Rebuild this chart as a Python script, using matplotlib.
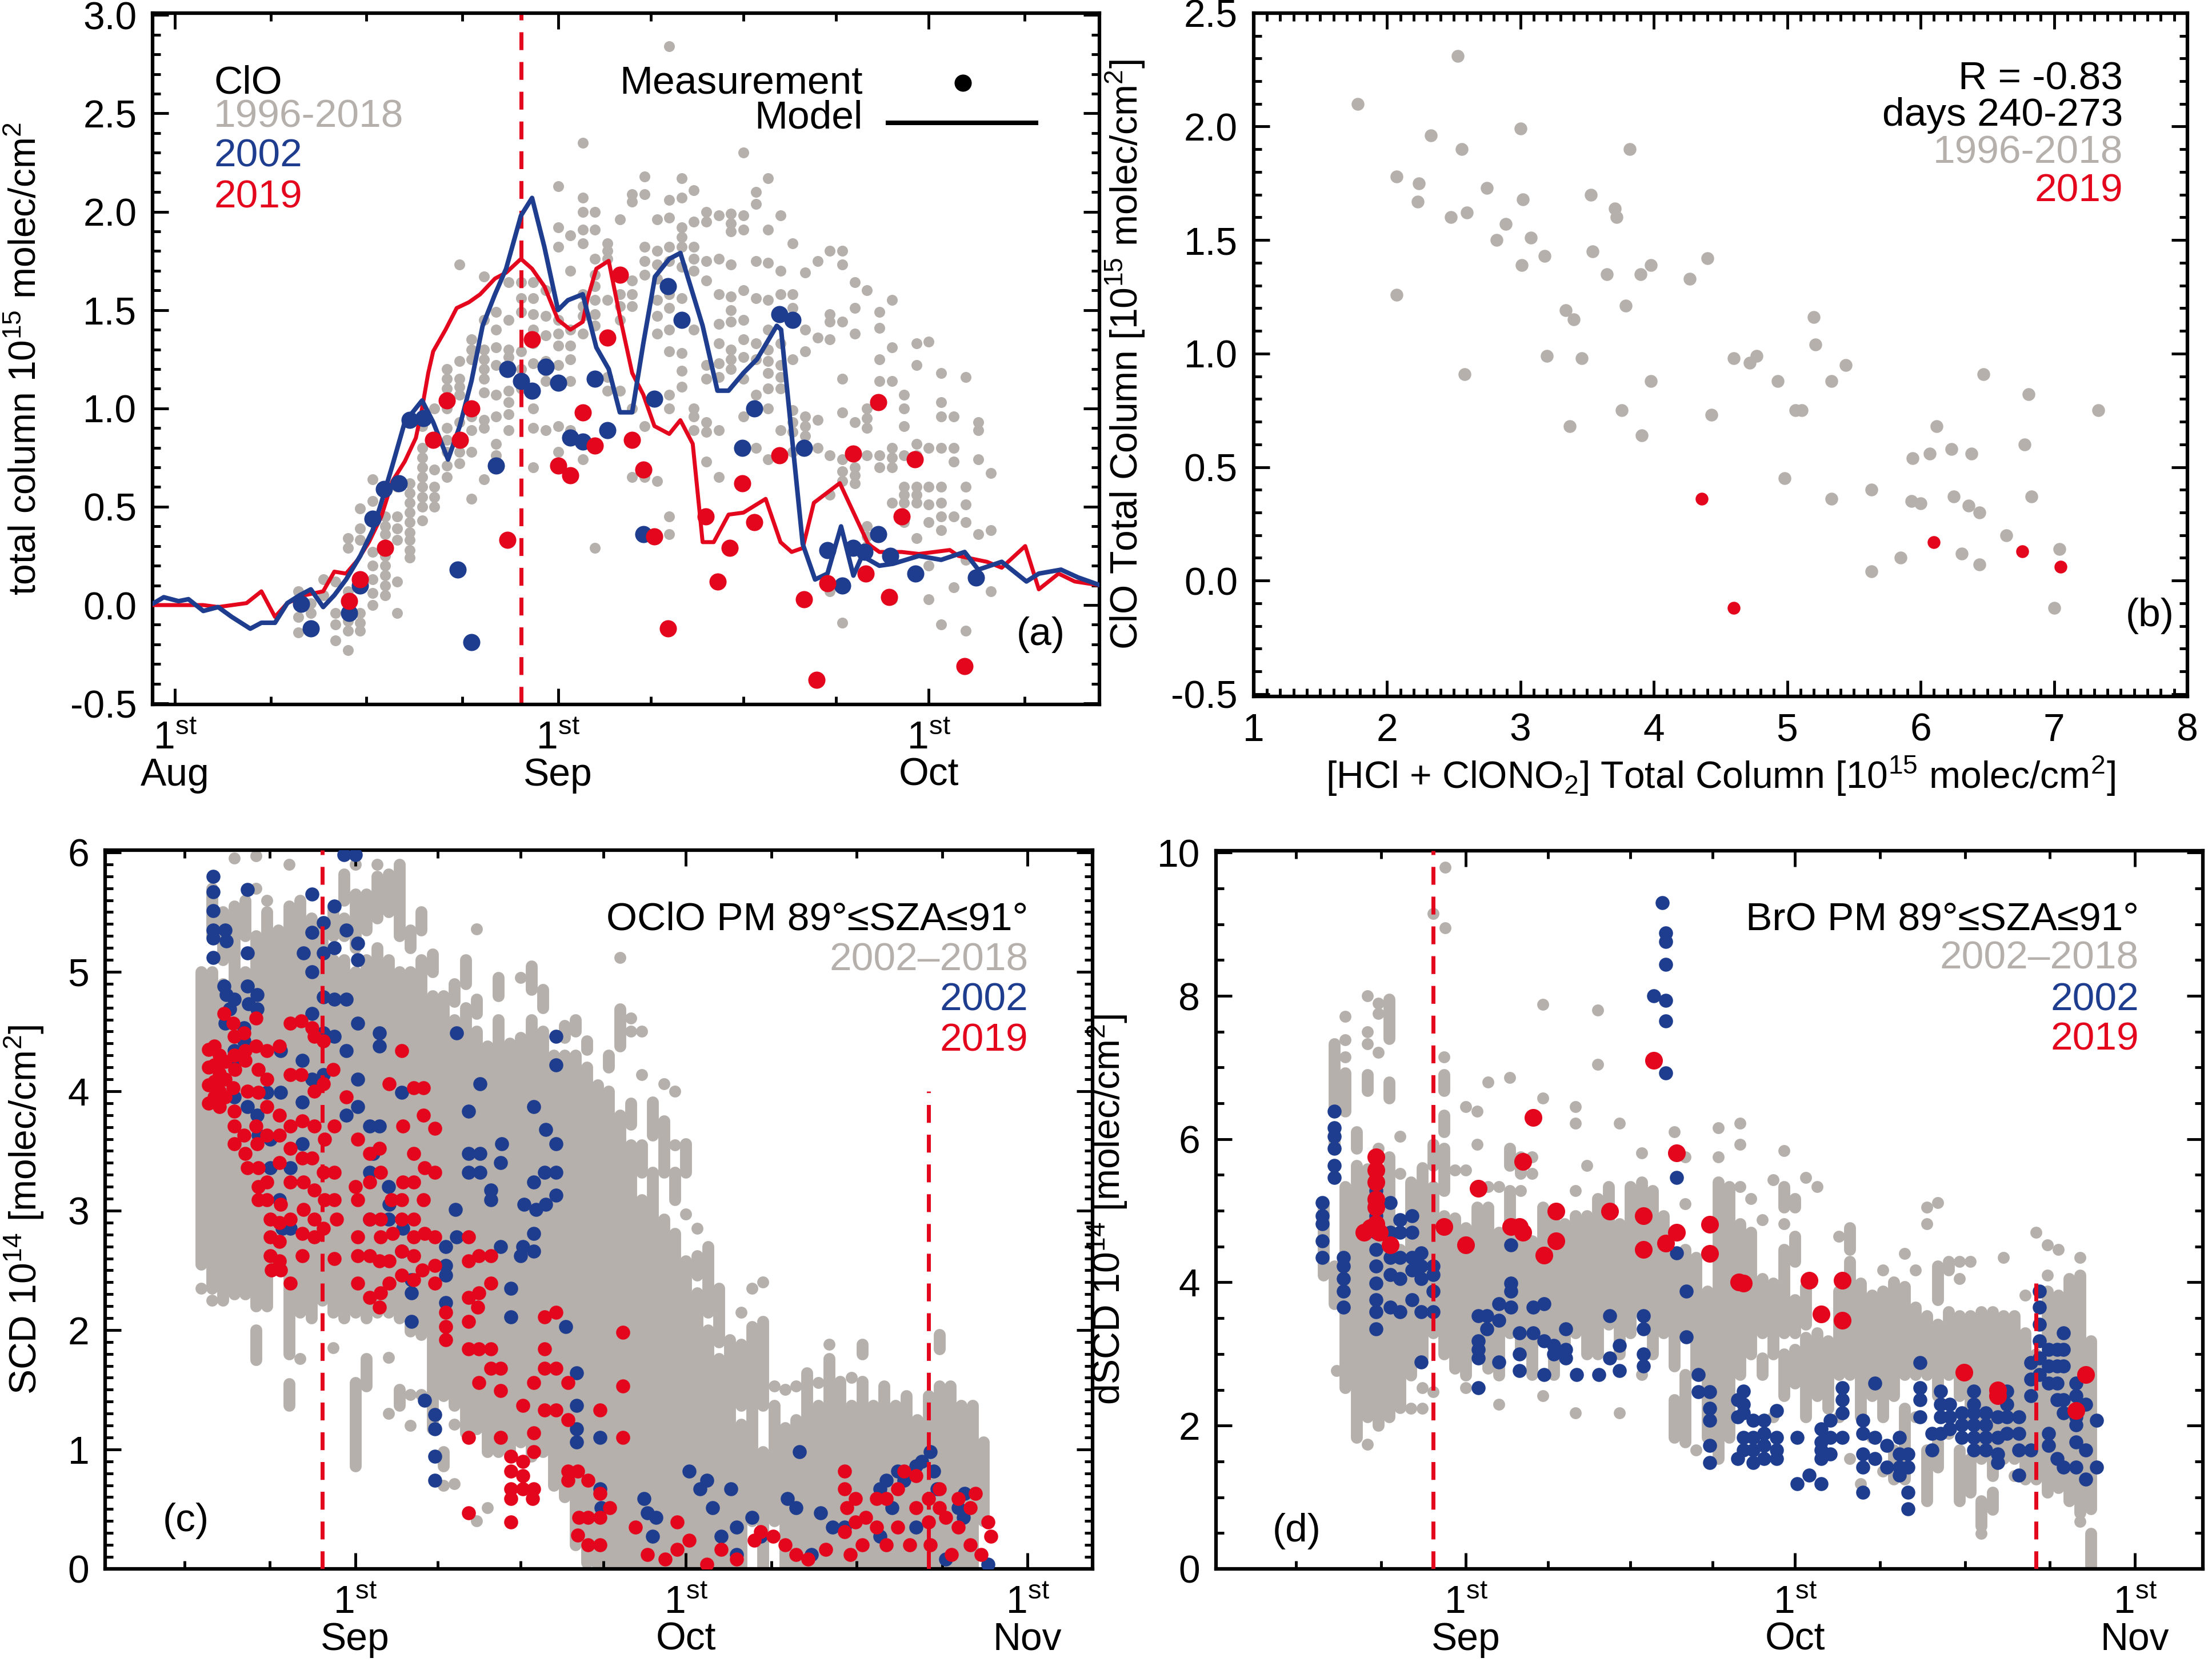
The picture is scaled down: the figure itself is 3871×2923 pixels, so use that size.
#!/usr/bin/env python3
"""ClO / OClO / BrO season overview: panels (a)-(d)."""

import matplotlib
matplotlib.use("Agg")
import matplotlib.pyplot as plt
from matplotlib.ticker import FixedLocator, MultipleLocator, FormatStrFormatter

plt.rcParams["font.family"] = ["Liberation Sans", "DejaVu Sans"]
plt.rcParams["mathtext.fontset"] = "custom"
plt.rcParams["mathtext.rm"] = "Liberation Sans"
plt.rcParams["mathtext.default"] = "regular"
plt.rcParams["axes.unicode_minus"] = False

GRAY = "#b5b0ab"
BLUE = "#1f3d8f"
RED = "#e3061d"

# ---------------- panel (a): ClO total column, day of year ----------------
a_gray_days = list(range(223, 280))
a_gray_cols = [
    [0.07, 0.03, 0.0, -0.06, -0.14],
    [0.01, -0.04],
    [0.13, 0.05],
    [0.12, -0.04, -0.10, -0.18],
    [0.34, 0.29, 0.07, 0.02, -0.03, -0.08, -0.13, -0.23],
    [0.49, 0.39, 0.33, -0.04, -0.09, -0.13],
    [0.64, 0.53, 0.27, 0.2, 0.13, 0.06, 0.0],
    [0.45, 0.40, 0.36, 0.30, 0.25, 0.20, 0.15, 0.10, 0.05],
    [0.6, 0.45, 0.39, 0.33, 0.12, -0.04],
    [0.62, 0.57, 0.52, 0.47, 0.42, 0.37, 0.33, 0.28, 0.24],
    [0.91, 0.8, 0.75, 0.7, 0.65, 0.6, 0.55, 0.5, 0.43],
    [1.0, 0.69, 0.6, 0.55, 0.5],
    [1.2, 1.15, 1.1, 1.0, 0.9, 0.84, 0.78, 0.71, 0.65],
    [1.73, 1.24, 1.15, 1.11, 1.07, 0.93, 0.78, 0.72],
    [1.35, 1.3, 1.25, 0.96, 0.89, 0.78, 0.54],
    [1.67, 1.45, 1.3, 1.25, 1.2, 1.15, 1.08, 0.94, 0.9, 0.64],
    [1.49, 1.4, 1.31, 1.22, 1.07, 0.96, 0.82, 0.76],
    [1.64, 1.45, 1.3, 1.26, 1.22, 1.09, 1.03, 0.97, 0.89],
    [1.64, 1.56, 1.49, 1.29, 1.2, 1.15, 1.1],
    [1.64, 1.56, 1.48, 1.4, 1.33, 1.23, 1.0, 0.9, 0.7],
    [1.6, 1.47, 1.37, 1.24, 1.19, 1.14, 0.89],
    [2.13, 1.92, 1.82, 1.45, 1.38, 1.32, 1.22, 0.91, 0.78],
    [1.88, 1.7, 1.4, 1.32, 1.25, 1.14, 0.89],
    [2.35, 2.07, 2.0, 1.91, 1.84, 1.58, 1.52, 1.47, 1.38, 0.74],
    [2.0, 1.91, 1.76, 1.68, 1.62, 1.55, 1.48, 1.42, 0.29],
    [1.84, 1.80, 1.76, 1.55, 1.16, 1.09],
    [1.96, 1.58, 1.52, 1.45, 1.09],
    [2.09, 2.05, 1.65, 1.58, 1.52, 1.0, 0.65],
    [2.18, 2.09, 1.82, 1.75, 1.68, 0.91, 0.65],
    [1.96, 1.8, 1.73, 1.66, 1.55, 1.47, 1.38, 0.63],
    [2.84, 2.06, 1.97, 1.82, 1.75, 1.58, 1.51, 1.40, 1.29, 1.07, 1.0, 0.45, 0.36],
    [2.17, 2.07, 1.92, 1.87, 1.82, 1.72, 1.56, 1.28, 1.19, 1.11],
    [2.11, 1.95, 1.82, 1.76, 1.7, 1.4, 1.0, 0.96, 0.89],
    [2.0, 1.95, 1.75, 1.65, 1.22, 1.15, 0.93, 0.88, 0.73],
    [1.98, 1.76, 1.58, 1.43, 1.33, 1.23, 1.16, 0.89, 0.65],
    [1.99, 1.94, 1.9, 1.73, 1.57, 1.5, 1.44, 1.3, 1.25, 1.2],
    [2.3, 1.98, 1.91, 1.6, 1.45, 1.35, 1.26, 1.15, 0.96],
    [2.1, 2.04, 1.75, 1.56, 1.33, 1.25, 1.07, 0.8],
    [2.17, 1.91, 1.74, 1.55, 1.4, 1.3, 1.24, 1.18, 1.1, 1.0, 0.74],
    [1.98, 1.7, 1.58, 1.48, 1.33, 1.22, 1.16, 1.1, 0.89],
    [1.84, 1.58, 1.51, 1.25, 0.99, 0.93, 0.88, 0.78],
    [1.69, 1.4, 1.29, 0.96, 0.91, 0.86],
    [1.75, 1.36, 0.94, 0.8],
    [1.8, 1.48, 1.44, 1.35, 0.76, 0.56, 0.07],
    [1.8, 1.73, 1.44, 1.15, 0.98, 0.74, 0.68, 0.63, -0.09],
    [1.64, 1.51, 1.38, 0.93, 0.7, 0.66, 0.62],
    [1.6, 1.0, 0.95, 0.9, 0.76, 0.4, 0.35, 0.3],
    [1.49, 1.41, 1.25, 1.14, 0.76, 0.7, 0.36],
    [1.55, 1.31, 1.14, 0.8, 0.75, 0.7, 0.52, 0.03],
    [1.07, 1.0, 0.91, 0.76, 0.6, 0.56, 0.52, 0.42],
    [1.33, 1.22, 0.82, 0.76, 0.6, 0.56, 0.52, 0.34],
    [1.34, 0.8, 0.6, 0.51, 0.42, 0.2, 0.03],
    [1.18, 1.03, 0.96, 0.8, 0.6, 0.52, 0.45, 0.38, -0.1],
    [0.96, 0.8, 0.73, 0.45, 0.09],
    [1.16, 0.6, 0.51, 0.42, 0.23, -0.13],
    [0.93, 0.89, 0.74, 0.36],
    [0.67, 0.38, 0.07],
]

a_blue_meas = [
    (223.2, 0.005), (224.0, -0.12), (227.1, -0.04), (228.0, 0.10), (229.0, 0.44),
    (229.9, 0.59), (231.1, 0.62), (232.0, 0.94), (233.1, 0.95), (235.9, 0.18),
    (237.0, -0.19), (239.0, 0.71), (239.9, 1.20), (241.0, 1.14), (241.9, 1.09),
    (243.0, 1.21), (244.0, 1.13), (245.0, 0.85), (246.0, 0.83), (247.0, 1.15),
    (248.0, 0.89), (250.9, 0.36), (251.8, 1.05), (252.9, 1.62), (254.0, 1.45),
    (258.9, 0.80), (259.9, 1.00), (261.9, 1.48), (263.0, 1.45), (263.9, 0.80),
    (265.8, 0.28), (267.0, 0.10), (267.9, 0.29), (268.8, 0.27), (269.9, 0.36),
    (270.9, 0.25), (272.9, 0.16), (277.8, 0.14),
]
a_red_meas = [
    (227.1, 0.02), (228.0, 0.13), (230.0, 0.29), (233.9, 0.84), (235.0, 1.04),
    (236.05, 0.84), (237.0, 1.00), (239.9, 0.33), (241.9, 1.35), (244.0, 0.71),
    (245.0, 0.66), (246.0, 0.98), (247.0, 0.81), (248.0, 1.36), (249.0, 1.68),
    (250.0, 0.84), (250.9, 0.69), (251.8, 0.35), (252.9, -0.12), (255.96, 0.45),
    (256.9, 0.12), (257.9, 0.29), (258.9, 0.62), (259.9, 0.42), (261.9, 0.76),
    (263.9, 0.03), (264.9, -0.38), (265.8, 0.11), (267.9, 0.77), (268.9, 0.16),
    (269.9, 1.03), (270.8, 0.04), (271.8, 0.45), (272.85, 0.74), (276.9, -0.31),
]
a_red_model = [
    (211.3, 0.0), (212.1, 0.0), (213.9, 0.0), (215.3, 0.0), (216.5, -0.01),
    (218.8, 0.01), (220.0, 0.07), (221.1, -0.06), (222.1, 0.01), (223.5, 0.05),
    (225.0, 0.07), (225.9, 0.17), (226.85, 0.16), (227.8, 0.23), (228.7, 0.32),
    (229.7, 0.45), (230.6, 0.63), (231.6, 0.73), (232.5, 0.85), (233.0, 1.0),
    (233.5, 1.18), (233.9, 1.29), (234.9, 1.40), (235.8, 1.51), (236.8, 1.54),
    (237.7, 1.58), (238.9, 1.66), (239.8, 1.69), (241.0, 1.76), (241.9, 1.71),
    (242.9, 1.62), (244.0, 1.45), (245.0, 1.40), (246.0, 1.44), (246.4, 1.56),
    (247.1, 1.71), (248.1, 1.75), (249.0, 1.47), (250.0, 1.18), (250.9, 1.07),
    (251.8, 0.91), (253.0, 0.87), (253.9, 0.94), (254.9, 0.82), (255.7, 0.32),
    (256.6, 0.32), (257.8, 0.46), (259.0, 0.47), (260.8, 0.54), (262.0, 0.32),
    (262.9, 0.27), (263.8, 0.29), (264.7, 0.52), (266.8, 0.62), (269.1, 0.31),
    (270.0, 0.27), (271.8, 0.27), (273.2, 0.26), (275.7, 0.28), (276.4, 0.25),
    (278.7, 0.22), (279.9, 0.19), (281.8, 0.30), (282.9, 0.08), (284.5, 0.16),
    (285.8, 0.12), (287.9, 0.10),
]
a_blue_model = [
    (211.3, 0.01), (212.1, 0.04), (213.3, 0.02), (214.1, 0.03), (215.3, -0.03),
    (216.5, -0.01), (217.6, -0.06), (219.1, -0.12), (220.0, -0.09), (221.1, -0.09),
    (222.1, 0.01), (223.1, 0.05), (224.0, 0.08), (225.0, -0.01), (225.9, 0.05),
    (226.85, 0.13), (228.0, 0.25), (229.0, 0.38), (229.7, 0.52), (230.6, 0.71),
    (231.6, 0.93), (233.0, 1.04), (233.9, 0.93), (235.1, 0.74), (236.05, 0.91),
    (237.0, 1.14), (237.9, 1.42), (238.9, 1.58), (239.8, 1.71), (241.0, 1.98),
    (241.9, 2.07), (242.9, 1.82), (244.0, 1.50), (244.8, 1.55), (246.0, 1.58),
    (247.1, 1.31), (248.1, 1.20), (249.0, 0.98), (250.0, 0.98), (250.9, 1.33),
    (251.85, 1.67), (253.0, 1.76), (253.9, 1.79), (255.7, 1.42), (256.9, 1.09),
    (257.8, 1.09), (259.0, 1.18), (260.1, 1.25), (261.7, 1.42), (262.05, 1.40),
    (263.8, 0.31), (264.8, 0.13), (265.8, 0.16), (266.9, 0.40), (267.9, 0.15),
    (268.6, 0.25), (270.0, 0.20), (271.1, 0.21), (273.2, 0.25), (275.0, 0.23),
    (276.9, 0.27), (278.0, 0.18), (279.9, 0.22), (281.9, 0.12), (282.9, 0.16),
    (284.7, 0.18), (286.1, 0.14), (287.9, 0.10),
]

# ---------------- panel (b): ClO vs HCl + ClONO2 ----------------
b_gray = [
    (1.78, 2.10), (2.07, 1.26), (2.07, 1.78), (2.24, 1.75), (2.23, 1.67), (2.33, 1.96),
    (2.48, 1.60), (2.53, 2.31), (2.56, 1.90), (2.60, 1.62), (2.58, 0.91), (2.75, 1.73),
    (2.82, 1.50), (2.89, 1.57), (3.00, 1.99), (3.01, 1.39), (3.02, 1.68), (3.08, 1.51),
    (3.18, 1.43), (3.20, 0.99), (3.34, 1.19), (3.37, 0.68), (3.40, 1.15), (3.46, 0.98),
    (3.53, 1.70), (3.54, 1.45), (3.65, 1.35), (3.71, 1.64), (3.72, 1.60), (3.76, 0.75),
    (3.79, 1.21), (3.82, 1.90), (3.90, 1.35), (3.91, 0.64), (3.98, 1.39), (3.98, 0.88),
    (4.27, 1.33), (4.40, 1.42), (4.43, 0.73), (4.60, 0.98), (4.72, 0.96), (4.77, 0.99),
    (4.93, 0.88), (4.98, 0.45), (5.06, 0.75), (5.11, 0.75), (5.20, 1.16), (5.21, 1.04),
    (5.33, 0.88), (5.33, 0.36), (5.44, 0.95), (5.63, 0.40), (5.63, 0.04), (5.85, 0.10),
    (5.94, 0.54), (5.93, 0.35), (6.00, 0.34), (6.07, 0.56), (6.12, 0.68), (6.23, 0.58),
    (6.25, 0.37), (6.31, 0.12), (6.36, 0.33), (6.38, 0.56), (6.44, 0.30), (6.44, 0.07),
    (6.47, 0.91), (6.64, 0.20), (6.78, 0.60), (6.81, 0.82), (6.83, 0.37), (7.04, 0.14),
    (7.00, -0.12), (7.33, 0.75),
]
b_red = [(4.36, 0.36), (4.60, -0.12), (6.10, 0.17), (6.76, 0.13), (7.05, 0.06)]

# ---------------- panel (c): OClO SCD ----------------
# gray: (day, low, high) runs of overlapping measurements, plus single points
c_gray_runs = [
    (230, 2.55, 5.0), (231, 2.35, 5.0), (231, 5.3, 5.7), (232, 2.25, 4.9), (232, 5.1, 5.5),
    (233, 2.3, 5.55), (234, 2.3, 5.0), (234, 5.3, 5.6), (235, 2.2, 5.3), (235, 1.75, 2.0),
    (236, 2.2, 5.5), (237, 2.5, 5.35), (238, 1.8, 5.55), (238, 1.37, 1.55), (239, 2.15, 5.6),
    (240, 2.1, 5.45), (241, 2.25, 5.4), (242, 2.15, 5.1), (242, 5.3, 5.55), (243, 2.1, 5.1),
    (243, 5.3, 5.45), (243, 5.6, 5.82), (244, 2.15, 5.0), (244, 5.2, 5.65), (244, 0.86, 1.56),
    (245, 2.1, 5.1), (245, 5.35, 5.65), (245, 1.53, 1.76), (246, 2.15, 5.2), (246, 5.45, 5.8),
    (247, 2.15, 5.1), (247, 5.5, 5.82), (248, 2.1, 5.0), (248, 5.3, 5.9), (248, 1.37, 1.5),
    (249, 1.99, 5.0), (249, 5.2, 5.35), (250, 1.96, 5.1), (250, 5.35, 5.5), (251, 1.17, 4.8),
    (251, 5.0, 5.15), (252, 1.45, 4.8), (252, 0.86, 0.98), (253, 1.37, 4.6), (253, 4.75, 4.9),
    (254, 1.14, 4.7), (254, 4.9, 5.1), (255, 1.17, 4.5), (255, 4.65, 4.77), (256, 0.98, 4.38),
    (257, 0.98, 4.6), (257, 4.8, 4.95), (258, 0.94, 4.4), (259, 1.06, 4.45), (260, 0.94, 4.6),
    (260, 4.85, 5.05), (261, 0.98, 4.5), (261, 4.7, 4.85), (262, 0.7, 4.3), (263, 0.6, 4.3),
    (263, 4.45, 4.55), (264, 0.2, 4.3), (264, 4.5, 4.6), (265, 0.05, 4.2), (265, 4.35, 4.42),
    (266, 0.0, 4.05), (267, 0.0, 4.0), (267, 4.2, 4.3), (268, 0.0, 3.8), (268, 4.38, 4.69),
    (269, 0.0, 3.55), (269, 3.72, 3.9), (270, 0.0, 3.09), (270, 3.32, 3.55), (271, 0.0, 3.32),
    (271, 3.63, 3.91), (272, 0.0, 2.93), (272, 3.32, 3.75), (273, 0.0, 2.81), (273, 3.09, 3.32),
    (274, 0.0, 2.58), (274, 3.32, 3.56), (275, 0.0, 2.31), (275, 2.46, 2.62), (276, 0.0, 2.0),
    (276, 2.15, 2.7), (277, 0.0, 1.76), (277, 1.9, 2.35), (278, 0.0, 1.92), (279, 0.0, 1.21),
    (279, 1.37, 1.88), (280, 0.4, 2.03), (281, 0.0, 0.98), (281, 1.37, 2.07), (282, 0.4, 1.37),
    (283, 0.0, 1.18), (284, 0.0, 1.25), (285, 0.0, 1.64), (286, 0.0, 1.37), (287, 0.0, 1.76),
    (288, 0.0, 1.57), (289, 0.0, 1.37), (290, 0.0, 1.57), (290, 1.8, 1.88), (291, 0.0, 1.37),
    (292, 0.0, 1.53), (293, 0.0, 1.37), (294, 0.0, 1.45), (295, 0.0, 1.25), (296, 0.0, 1.45),
    (297, 0.0, 1.53), (297, 1.84, 1.96), (298, 0.0, 1.53), (299, 0.0, 1.37), (300, 0.0, 1.37),
    (301, 0.4, 1.06),
]
c_gray_pts = [
    (230, 2.35), (231, 2.25), (233, 5.95), (235, 5.7), (235, 5.97), (236, 5.6), (238, 5.9),
    (239, 1.76), (242, 1.85), (244, 5.9), (246, 5.9), (247, 1.3), (247, 1.77), (249, 1.2),
    (249, 1.46), (250, 1.46), (252, 0.7), (253, 1.21), (253, 0.71), (255, 5.36), (255, 0.4),
    (256, 0.51), (259, 4.95), (268, 5.12), (269, 4.61), (269, 4.5), (270, 4.14), (270, 4.5),
    (272, 4.06), (273, 3.55), (273, 4.0), (274, 2.97), (275, 2.85), (279, 2.15), (280, 2.35),
    (281, 2.4), (282, 1.53), (283, 1.5), (284, 1.53), (286, 1.56), (287, 1.88), (289, 1.6),
]
c_blue = [
    (231.1, 5.8), (231.1, 5.67), (231.1, 5.51), (231.1, 5.35), (231.1, 5.28), (231.1, 5.12),
    (232.2, 5.35), (232.3, 5.26), (232.1, 4.88), (232.3, 4.81), (232.6, 4.69), (232.2, 4.57),
    (233.0, 4.77), (234.2, 5.69), (234.2, 5.16), (234.2, 4.88), (234.3, 4.73), (233.9, 4.53),
    (233.9, 4.42), (235.1, 4.81), (235.1, 4.69), (233.0, 4.34), (233.0, 4.26), (233.0, 3.95),
    (234.2, 3.87), (235.1, 3.8), (235.2, 3.63), (236.0, 3.99), (236.3, 3.36), (236.3, 3.6),
    (237.2, 4.34), (237.2, 3.99), (237.1, 3.09), (237.4, 2.85), (238.1, 3.36), (238.1, 2.85),
    (239.2, 4.26), (239.2, 3.91), (239.2, 3.56), (239.3, 5.16), (240.1, 5.65), (240.1, 5.33),
    (240.1, 5.0), (240.1, 4.65), (240.1, 4.1), (241.1, 5.41), (241.1, 5.16), (241.1, 4.79),
    (241.1, 4.49), (241.1, 4.14), (242.1, 5.55), (242.1, 5.2), (242.1, 4.77), (242.1, 4.46),
    (243.0, 5.98), (244.0, 5.98), (243.2, 5.35), (243.2, 4.77), (243.2, 4.34), (243.2, 3.8),
    (244.2, 5.24), (244.2, 5.1), (244.2, 4.57), (244.2, 4.1), (244.2, 3.87), (245.3, 3.71),
    (245.6, 3.48), (245.3, 3.32), (245.3, 2.93), (246.2, 4.49), (246.2, 4.38), (246.2, 3.71),
    (247.0, 3.2), (247.1, 3.05), (247.0, 2.93), (248.2, 3.99), (248.3, 2.85), (248.2, 2.66),
    (249.1, 2.42), (249.1, 2.31), (249.1, 2.07), (250.3, 1.41), (251.2, 1.29), (251.2, 1.17),
    (251.2, 0.94), (251.2, 0.74), (252.2, 2.7), (252.2, 2.54), (252.2, 2.46), (252.2, 2.23),
    (253.2, 4.49), (253.1, 3.01), (253.2, 2.78), (254.3, 3.83), (254.3, 3.48), (254.3, 3.32),
    (255.3, 4.06), (255.3, 3.48), (255.3, 3.32), (256.3, 3.17), (256.3, 3.09), (257.3, 3.56),
    (257.2, 3.4), (257.2, 2.7), (258.1, 2.35), (258.1, 2.11), (259.3, 3.05), (259.0, 2.62),
    (259.2, 2.7), (260.2, 3.87), (260.2, 3.24), (260.4, 3.01), (260.2, 2.81), (260.2, 2.66),
    (261.3, 3.68), (261.2, 3.32), (261.3, 3.05), (262.2, 4.46), (262.2, 4.22), (262.2, 3.56),
    (262.2, 3.32), (262.2, 3.13), (263.1, 2.03), (264.1, 1.64), (264.1, 1.37), (264.1, 1.17),
    (264.1, 1.06), (266.2, 1.1), (266.2, 0.67), (266.3, 0.51),
    (274.3, 0.82), (275.3, 0.67), (275.9, 0.74), (276.4, 0.51), (270.2, 0.59), (270.5, 0.47),
    (271.3, 0.43), (271.0, 0.27), (277.2, 0.27), (278.1, 0.67), (278.6, 0.35), (280.0, 0.43),
    (280.8, 0.27), (284.3, 0.98), (283.2, 0.59), (284.0, 0.51), (286.2, 0.47), (287.3, 0.35),
    (285.4, 0.12), (288.4, 0.35), (291.6, 0.67), (292.2, 0.74), (292.7, 0.51), (293.2, 0.82),
    (293.8, 0.74), (294.9, 0.86), (295.4, 0.90), (296.2, 0.98), (296.5, 0.82), (296.8, 0.67),
    (298.7, 0.51), (299.3, 0.63), (299.2, 0.43), (297.6, 0.08), (301.4, 0.04), (291.6, 0.27),
    (278.6, 0.12), (294.9, 0.35),
]
c_red = [
    (230.7, 4.35), (230.7, 4.2), (230.7, 4.05), (230.7, 3.9), (231.2, 4.38), (231.2, 4.22),
    (231.2, 4.08), (231.2, 3.95), (231.7, 4.3), (231.7, 4.15), (231.7, 4.0), (231.7, 3.87),
    (232.2, 4.25), (232.2, 4.1), (232.2, 3.95), (232.1, 4.65), (232.9, 4.57), (233.0, 4.46),
    (233.0, 4.30), (233.1, 4.18), (232.9, 4.03), (233.0, 3.83), (233.0, 3.71), (233.0, 3.56),
    (233.9, 4.49), (234.0, 4.34), (234.0, 4.26), (234.2, 4.0), (233.9, 3.63), (234.0, 3.48),
    (234.2, 3.36), (235.0, 4.61), (235.0, 4.38), (235.2, 4.18), (235.2, 3.99), (235.0, 3.71),
    (235.1, 3.56), (235.2, 3.36), (235.2, 3.2), (235.2, 3.09), (236.0, 4.34), (236.0, 4.1),
    (236.0, 3.87), (236.0, 3.63), (236.0, 3.24), (236.0, 3.09), (236.3, 2.93), (236.3, 2.78),
    (236.3, 2.62), (236.4, 2.5), (237.1, 4.38), (237.1, 3.8), (237.1, 3.63), (237.1, 3.4),
    (237.2, 3.05), (237.1, 2.9), (237.1, 2.74), (237.1, 2.58), (237.2, 2.5), (238.1, 4.57),
    (238.1, 4.14), (238.1, 3.71), (238.1, 3.52), (238.1, 3.24), (238.1, 2.93), (238.1, 2.39),
    (239.1, 4.59), (239.1, 4.14), (239.2, 3.75), (239.2, 3.44), (239.3, 3.24), (239.3, 3.01),
    (239.2, 2.81), (239.2, 2.62), (240.1, 4.53), (240.3, 4.46), (240.3, 4.0), (240.3, 3.71),
    (240.1, 3.44), (240.3, 3.17), (240.3, 2.93), (240.3, 2.78), (241.1, 4.42), (241.1, 4.06),
    (241.2, 3.6), (241.1, 3.32), (241.2, 3.09), (241.1, 2.85), (242.0, 4.18), (242.1, 3.71),
    (242.1, 3.32), (242.1, 3.09), (242.3, 2.93), (242.1, 2.6), (243.2, 3.95), (244.2, 3.6),
    (244.0, 3.2), (244.2, 3.09), (244.2, 2.78), (244.2, 2.62), (244.2, 2.39), (245.3, 3.48),
    (245.3, 3.24), (245.3, 2.93), (245.3, 2.62), (245.3, 2.27), (246.2, 3.52), (246.3, 3.32),
    (246.3, 2.93), (246.3, 2.78), (246.2, 2.58), (246.3, 2.31), (246.2, 2.19), (247.1, 4.06),
    (247.3, 3.09), (247.4, 2.81), (247.1, 2.58), (247.1, 2.39), (248.2, 4.34), (248.3, 3.71),
    (248.3, 3.24), (248.2, 3.09), (248.2, 2.93), (248.2, 2.66), (248.2, 2.46), (249.3, 4.03),
    (249.3, 3.48), (249.3, 3.24), (249.3, 2.93), (249.3, 2.78), (249.3, 2.62), (249.3, 2.42),
    (250.2, 4.03), (250.2, 3.8), (250.3, 3.36), (250.2, 3.09), (250.3, 2.81), (250.1, 2.5),
    (251.2, 3.69), (251.2, 3.32), (251.2, 2.78), (251.2, 2.54), (251.2, 2.39), (252.2, 2.15),
    (252.2, 2.03), (252.2, 1.92), (254.3, 2.78), (254.3, 2.58), (254.3, 2.27), (254.3, 2.07),
    (254.3, 1.84), (254.3, 1.1), (254.3, 0.47), (255.2, 2.62), (255.2, 2.31), (255.1, 2.19),
    (255.2, 1.84), (255.2, 1.56), (256.3, 2.62), (256.3, 2.39), (256.3, 1.84), (256.3, 1.68),
    (257.2, 1.68), (257.2, 1.49), (257.2, 1.1), (258.1, 0.94), (258.1, 0.82), (258.1, 0.67),
    (258.1, 0.59), (258.1, 0.39), (259.2, 0.9), (259.2, 0.78), (259.2, 0.67), (259.2, 1.37),
    (260.2, 1.14), (260.2, 0.98), (260.2, 0.67), (260.1, 0.59), (260.2, 1.56), (261.2, 2.11),
    (261.2, 1.84), (261.2, 1.68), (261.2, 1.33), (262.2, 2.15), (262.2, 1.68), (262.2, 1.33),
    (263.3, 1.56), (263.3, 1.25), (263.3, 0.82), (263.3, 0.74), (264.2, 0.82), (264.3, 0.43),
    (264.2, 0.28), (265.1, 0.74), (265.1, 0.43), (265.1, 0.2), (266.2, 1.33), (266.2, 0.63),
    (266.2, 0.43), (266.2, 0.2), (267.1, 0.51), (268.3, 1.98), (268.3, 1.53), (268.3, 1.10),
    (269.4, 0.35), (273.2, 0.39), (270.5, 0.12), (272.1, 0.08), (273.2, 0.16), (274.3, 0.24),
    (275.9, 0.04), (277.2, 0.16), (278.6, 0.08), (280.2, 0.24), (280.8, 0.31), (281.9, 0.27),
    (283.0, 0.20), (284.0, 0.12), (285.1, 0.08), (286.7, 0.16), (288.4, 0.82), (288.4, 0.67),
    (288.6, 0.51), (288.4, 0.31), (289.4, 0.59), (289.4, 0.39), (290.3, 0.43), (291.3, 0.35),
    (291.3, 0.59), (292.2, 0.59), (292.2, 0.20), (293.2, 0.67), (293.2, 0.35), (293.8, 0.82),
    (294.9, 0.78), (294.9, 0.51), (296.0, 0.59), (296.0, 0.39), (297.0, 0.51), (297.0, 0.67),
    (297.6, 0.43), (298.7, 0.35), (298.7, 0.59), (299.8, 0.51), (300.3, 0.63), (301.4, 0.39),
    (301.7, 0.27), (300.8, 0.12), (299.8, 0.20), (298.1, 0.12), (296.2, 0.20), (294.3, 0.20),
    (290.0, 0.20), (288.9, 0.12),
]

# ---------------- panel (d): BrO dSCD ----------------
d_gray_runs = [
    (231, 4.1, 5.1), (232, 6.39, 7.33), (232, 5.87, 6.1), (232, 3.7, 4.23), (233, 6.39, 6.92),
    (233, 2.53, 5.34), (234, 1.83, 5.63), (234, 5.87, 6.1), (235, 6.68, 6.9), (235, 2.12, 5.58),
    (236, 5.05, 5.4), (236, 2.0, 5.0), (237, 7.4, 7.95), (237, 6.57, 6.8), (237, 2.12, 5.75),
    (238, 2.25, 4.46), (239, 2.7, 5.4), (240, 2.94, 5.6), (241, 5.63, 5.93), (241, 3.29, 5.34),
    (242, 6.68, 6.9), (242, 6.1, 6.33), (242, 5.28, 5.87), (242, 3.0, 4.93), (243, 2.8, 4.9),
    (244, 2.7, 4.76), (245, 3.0, 5.05), (246, 2.8, 5.05), (247, 2.7, 4.7), (248, 5.63, 5.87),
    (248, 3.29, 5.28), (249, 5.52, 5.75), (249, 3.0, 4.58), (250, 2.71, 4.58), (251, 3.29, 5.05),
    (252, 2.71, 4.93), (253, 3.0, 4.82), (254, 3.29, 4.93), (255, 3.0, 4.93), (256, 3.0, 5.17),
    (257, 3.41, 5.34), (258, 3.0, 4.82), (259, 3.29, 5.34), (260, 3.59, 5.4), (261, 3.0, 5.28),
    (262, 3.29, 4.93), (263, 2.83, 4.35), (263, 1.83, 2.36), (264, 3.29, 4.46), (264, 1.77, 2.71),
    (265, 2.71, 4.35), (266, 1.83, 3.88), (267, 1.54, 5.4), (268, 1.83, 5.34), (269, 2.71, 4.82),
    (270, 3.0, 4.7), (271, 3.29, 4.05), (271, 2.71, 2.94), (272, 3.0, 3.99), (273, 5.05, 5.34),
    (273, 3.29, 4.46), (273, 2.42, 3.0), (274, 5.05, 5.17), (274, 4.29, 4.64), (274, 3.29, 3.76),
    (274, 2.59, 3.06), (275, 3.41, 3.94), (275, 2.12, 3.23), (276, 2.42, 3.29), (277, 2.24, 3.18),
    (278, 2.71, 3.88), (279, 4.46, 4.76), (279, 2.71, 4.29), (280, 2.12, 3.99), (281, 2.42, 3.82),
    (282, 2.12, 3.88), (283, 2.42, 4.0), (283, 1.25, 1.66), (284, 2.71, 3.94), (284, 1.25, 2.24),
    (285, 2.71, 3.65), (286, 2.71, 3.53), (286, 0.95, 1.66), (287, 3.76, 4.23), (287, 2.42, 3.41),
    (287, 1.42, 1.77), (288, 4.17, 4.29), (288, 2.71, 3.59), (289, 2.42, 3.53), (289, 0.95, 1.66),
    (290, 2.12, 3.53), (290, 1.07, 1.54), (291, 1.54, 3.59), (291, 0.6, 0.95), (292, 1.3, 3.59),
    (292, 0.83, 1.07), (293, 1.54, 3.53), (294, 1.54, 3.53), (295, 1.25, 3.29), (296, 1.25, 3.0),
    (297, 1.07, 3.88), (298, 1.13, 3.82), (299, 0.95, 4.05), (300, 0.78, 4.1), (301, 0.84, 3.18),
    (301, 0.02, 0.49),
]
d_gray_pts = [
    (233, 7.71), (233, 7.39), (233, 7.15), (232.2, 2.77), (235, 8.0), (235, 7.5), (235, 7.33),
    (235, 1.74), (236, 7.9), (236, 7.75), (236, 7.21), (236, 5.87), (238, 6.04), (238, 5.52),
    (239, 2.24), (240, 2.53), (240, 2.24), (241, 2.47), (241, 9.15), (242.1, 9.8), (242.1, 8.95),
    (242, 7.15), (243, 5.57), (244, 6.45), (244, 5.57), (244, 2.53), (245, 6.39), (245, 5.93),
    (246, 6.8), (246, 5.34), (247, 5.34), (247, 2.3), (248, 6.86), (249, 5.28), (250, 5.75),
    (250, 5.52), (251, 7.88), (251, 6.57), (251, 2.42), (254, 6.45), (254, 6.22), (254, 5.28),
    (254, 2.18), (255, 5.63), (256, 7.8), (256, 7.04), (258, 6.22), (258, 2.18), (260, 5.81),
    (260, 2.71), (263, 6.1), (264, 5.75), (264, 5.1), (265, 1.66), (267, 6.16), (267, 5.75),
    (269, 6.22), (269, 5.93), (269, 5.34), (270, 5.17), (271, 4.87), (272, 5.43), (272, 2.12),
    (273, 5.84), (273, 4.82), (275, 5.46), (276, 5.34), (277, 1.83), (278, 4.64), (278, 2.12),
    (279, 1.54), (280, 1.19), (281, 1.83), (282, 4.17), (282, 1.36), (284, 4.4), (285, 4.17),
    (285, 2.12), (286, 5.05), (286, 4.82), (287, 5.11), (288, 1.89), (289, 4.29), (289, 4.05),
    (290, 4.29), (291, 0.49), (293, 4.35), (294, 1.3), (295, 3.82), (296, 4.7), (297, 4.52),
    (297, 4.1), (298, 4.46), (300, 4.35), (300, 0.66),
]
d_blue = [
    (230.9, 5.11), (230.9, 4.93), (230.9, 4.82), (230.9, 4.58), (230.9, 4.35),
    (232.0, 6.39), (232.0, 6.16), (232.0, 6.04), (232.0, 5.87), (232.0, 5.63), (232.0, 5.46),
    (232.8, 4.35), (232.8, 4.23), (232.8, 4.05), (232.8, 3.88), (232.8, 3.65),
    (235.8, 5.28), (235.8, 5.05), (235.8, 4.93), (235.8, 4.7), (235.8, 4.46), (235.8, 4.23),
    (235.8, 3.99), (235.8, 3.76), (235.8, 3.59), (235.8, 3.35), (237.1, 5.11), (237.1, 4.7),
    (237.1, 4.35), (237.1, 4.11), (237.1, 3.65), (238.0, 4.87), (238.0, 4.7), (238.0, 4.35),
    (238.0, 4.05), (238.0, 3.59), (239.1, 4.93), (239.1, 4.7), (239.1, 4.35), (239.1, 4.17),
    (239.1, 3.76), (239.9, 4.41), (239.9, 4.23), (239.9, 4.05), (239.9, 3.59), (239.9, 2.89),
    (241.0, 4.23), (241.0, 4.11), (241.0, 3.88), (241.0, 3.59), (245.1, 3.53), (245.1, 3.18),
    (245.1, 3.06), (245.1, 2.94), (245.1, 2.53), (245.9, 3.53), (245.9, 3.35), (247.0, 3.7),
    (247.0, 3.47), (247.0, 2.89), (248.1, 3.99), (248.1, 3.88), (248.1, 3.65), (248.1, 4.52),
    (248.9, 3.29), (248.9, 3.0), (248.9, 2.77), (250.1, 3.65), (250.1, 3.29), (251.1, 3.7),
    (251.1, 3.18), (251.1, 2.71), (252.0, 3.12), (252.0, 3.0), (253.1, 3.35), (253.1, 3.06),
    (253.1, 2.94), (254.1, 2.71), (256.1, 2.71), (257.1, 3.53), (257.1, 2.94), (258.0, 3.12),
    (258.0, 2.77), (260.2, 3.53), (260.2, 3.35), (260.2, 3.0), (260.2, 2.83), (261.1, 8.0),
    (261.9, 9.3), (262.2, 8.88), (262.2, 8.76), (262.2, 8.44), (262.2, 7.94), (262.2, 7.65),
    (262.2, 6.92), (263.2, 5.46), (263.2, 4.41), (264.1, 3.88), (264.1, 3.24), (265.2, 2.71),
    (265.2, 2.47), (266.2, 2.47), (266.2, 2.24), (266.2, 2.07), (266.2, 1.72), (266.2, 1.48),
    (268.8, 2.36), (268.8, 2.12), (268.8, 1.54),
    (269.3, 2.48), (269.3, 2.3), (269.3, 2.18), (269.3, 1.83), (269.3, 1.66), (270.2, 2.07),
    (270.2, 1.83), (270.2, 1.66), (270.2, 1.48), (271.2, 2.07), (271.2, 1.89), (271.2, 1.72),
    (271.2, 1.54), (272.3, 2.21), (272.3, 1.83), (272.3, 1.66), (272.3, 1.54), (274.2, 1.83),
    (274.2, 1.19), (275.3, 1.31), (276.4, 1.95), (276.4, 1.77), (276.4, 1.66), (276.4, 1.54),
    (276.4, 1.19), (277.2, 2.07), (277.2, 1.83), (277.2, 1.6), (278.3, 2.53), (278.3, 2.36),
    (278.3, 2.18), (278.3, 1.83), (280.2, 2.07), (280.2, 1.89), (280.2, 1.6), (280.2, 1.42),
    (280.2, 1.07), (281.3, 2.59), (281.3, 1.83), (281.3, 1.54), (282.4, 1.72), (282.4, 1.42),
    (283.5, 1.83), (283.5, 1.6), (283.5, 1.42), (283.5, 1.31), (284.3, 1.6), (284.3, 1.42),
    (284.3, 1.07), (284.3, 0.84), (285.4, 2.88), (285.4, 2.53), (285.4, 2.36), (285.4, 2.12),
    (286.5, 1.89), (286.5, 1.66), (287.3, 2.48), (287.3, 2.3), (287.3, 2.12), (287.3, 1.89),
    (288.1, 2.3), (288.1, 2.12), (288.1, 1.95), (289.2, 2.18), (289.2, 2.01), (289.2, 1.83),
    (290.3, 2.48), (290.3, 2.3), (290.3, 2.18), (290.3, 2.01), (290.3, 1.83), (290.3, 1.66),
    (291.4, 2.18), (291.4, 2.01), (291.4, 1.83), (291.4, 1.66), (292.5, 2.12), (292.5, 1.83),
    (292.5, 1.6), (292.5, 1.48), (293.3, 2.48), (293.3, 2.3), (293.3, 2.12), (293.3, 1.89),
    (294.4, 2.12), (294.4, 1.89), (294.4, 1.66), (294.4, 1.31), (295.5, 2.88), (295.5, 2.65),
    (295.5, 2.42), (295.5, 1.66), (296.3, 3.88), (296.3, 3.65), (296.3, 3.41), (296.3, 3.18),
    (296.3, 2.94), (296.3, 2.71), (297.1, 3.06), (297.1, 2.83), (297.1, 2.59), (297.1, 1.89),
    (297.1, 1.72), (297.9, 3.06), (297.9, 2.83), (297.9, 2.59), (297.9, 2.36), (297.9, 1.54),
    (298.5, 3.29), (298.5, 3.06), (298.5, 2.83), (298.5, 2.36), (298.5, 2.18), (298.5, 1.42),
    (299.6, 2.59), (299.6, 2.42), (299.6, 2.12), (299.6, 2.01), (299.6, 1.77), (299.6, 1.42),
    (300.5, 2.3), (300.5, 1.66), (300.5, 1.25), (301.5, 2.07), (301.5, 1.42),
]
d_red = [
    (235.8, 5.75), (235.8, 5.57), (235.8, 5.4), (235.8, 5.16), (235.8, 5.05), (234.7, 4.7),
    (235.3, 4.76), (235.8, 4.82), (236.1, 4.7), (237.1, 4.52), (242.0, 4.78), (244.0, 4.52),
    (245.1, 5.31), (248.1, 4.78), (248.9, 4.78), (249.2, 4.7), (249.2, 5.69), (250.1, 6.3),
    (251.1, 4.38), (252.2, 4.99), (252.2, 4.58), (257.1, 4.99), (260.2, 4.93), (260.2, 4.46),
    (261.1, 7.1), (262.2, 4.55), (263.2, 4.7), (263.2, 5.81), (266.2, 4.81), (266.2, 4.4),
    (268.9, 4.0), (269.3, 3.99), (275.3, 4.03), (276.4, 3.56), (278.3, 4.03), (278.3, 3.47),
    (289.4, 2.74), (292.5, 2.42), (292.5, 2.5), (299.6, 2.21), (300.5, 2.71),
]

MONTH_LABEL = r"1$^{\rm st}$" + "\n"
TICK_FS = 19.5
TEXT_FS = 20
DASH = (4.5, 3.0)


def split(pairs):
    return [p[0] for p in pairs], [p[1] for p in pairs]


def style_axes(ax):
    for sp in ax.spines.values():
        sp.set_linewidth(1.8)
    ax.tick_params(which="both", direction="in", top=True, right=True,
                   width=1.4, labelsize=TICK_FS, pad=8)
    ax.tick_params(which="major", length=8)
    ax.tick_params(which="minor", length=4)


def month_axis(ax, majors, names, minors):
    ax.xaxis.set_major_locator(FixedLocator(majors))
    ax.xaxis.set_minor_locator(FixedLocator(minors))
    ax.set_xticklabels([MONTH_LABEL + n for n in names], fontsize=TICK_FS)
    for lbl in ax.get_xticklabels():
        lbl.set_linespacing(1.0)


def gray_runs(ax, runs, pts, lw):
    lc = ax.vlines([r[0] for r in runs], [r[1] for r in runs], [r[2] for r in runs],
                   colors=GRAY, linewidth=lw, zorder=1)
    lc.set_capstyle("round")
    x, y = split(pts)
    ax.scatter(x, y, s=lw ** 2, color=GRAY, lw=0, zorder=1)


def corner_texts(ax, x, ys, items):
    for y, (txt, col) in zip(ys, items):
        ax.text(x, y, txt, color=col, fontsize=TEXT_FS, ha="right", va="center",
                transform=ax.transAxes)


def main():
    fig = plt.figure(figsize=(3871 / 250, 2923 / 250), dpi=250)

    # ---- (a)
    ax = fig.add_axes([0.0690, 0.5782, 0.4280, 0.4140])
    style_axes(ax)
    gx = [d for d, col in zip(a_gray_days, a_gray_cols) for _ in col]
    gy = [v for col in a_gray_cols for v in col]
    ax.scatter(gx, gy, s=30, color=GRAY, lw=0, zorder=1)
    ax.axvline(241, color=RED, lw=2.0, dashes=DASH, zorder=2)
    x, y = split(a_red_model)
    ax.plot(x, y, color=RED, lw=2.0, zorder=3)
    x, y = split(a_blue_model)
    ax.plot(x, y, color=BLUE, lw=2.3, zorder=3)
    x, y = split(a_blue_meas)
    ax.scatter(x, y, s=75, color=BLUE, lw=0, zorder=4)
    x, y = split(a_red_meas)
    ax.scatter(x, y, s=75, color=RED, lw=0, zorder=4)
    ax.set_xlim(211.2, 287.8)
    ax.set_ylim(-0.505, 3.01)
    ax.yaxis.set_major_locator(MultipleLocator(0.5))
    ax.yaxis.set_minor_locator(MultipleLocator(0.1))
    ax.yaxis.set_major_formatter(FormatStrFormatter("%.1f"))
    month_axis(ax, [213, 244, 274], ["Aug", "Sep", "Oct"],
               [220.75, 228.5, 236.25, 251.5, 259, 266.5, 281.75])
    ax.set_ylabel(r"total column 10$^{15}$ molec/cm$^2$", fontsize=19)
    ax.yaxis.set_label_coords(-0.115, 0.5)
    for y, (txt, col) in zip([0.899, 0.850, 0.793, 0.733],
                             [("ClO", "black"), ("1996-2018", GRAY),
                              ("2002", BLUE), ("2019", RED)]):
        ax.text(0.0646, y, txt, color=col, fontsize=TEXT_FS, ha="left", va="center",
                transform=ax.transAxes)
    ax.text(0.75, 0.899, "Measurement", fontsize=TEXT_FS, ha="right", va="center",
            transform=ax.transAxes)
    ax.text(0.75, 0.848, "Model", fontsize=TEXT_FS, ha="right", va="center",
            transform=ax.transAxes)
    ax.scatter([0.856], [0.899], s=75, color="black", lw=0, transform=ax.transAxes)
    ax.plot([0.777, 0.933], [0.841, 0.841], color="black", lw=2.3, transform=ax.transAxes)
    ax.text(0.938, 0.101, "(a)", fontsize=TEXT_FS, ha="center", va="center",
            transform=ax.transAxes)

    # ---- (b)
    ax = fig.add_axes([0.5667, 0.5830, 0.4222, 0.4092])
    style_axes(ax)
    x, y = split(b_gray)
    ax.scatter(x, y, s=42, color=GRAY, lw=0)
    x, y = split(b_red)
    ax.scatter(x, y, s=42, color=RED, lw=0)
    ax.set_xlim(1, 8)
    ax.set_ylim(-0.51, 2.5)
    ax.xaxis.set_major_locator(MultipleLocator(1))
    ax.xaxis.set_minor_locator(MultipleLocator(0.1))
    ax.yaxis.set_major_locator(MultipleLocator(0.5))
    ax.yaxis.set_minor_locator(MultipleLocator(0.1))
    ax.yaxis.set_major_formatter(FormatStrFormatter("%.1f"))
    ax.set_ylabel(r"ClO Total Column [10$^{15}$ molec/cm$^2$]", fontsize=19)
    ax.yaxis.set_label_coords(-0.114, 0.5)
    ax.set_xlabel(r"[HCl + ClONO$_2$] Total Column [10$^{15}$ molec/cm$^2$]", fontsize=19)
    ax.xaxis.set_label_coords(0.5, -0.085)
    corner_texts(ax, 0.931, [0.903, 0.850, 0.795, 0.739],
                 [("R = -0.83", "black"), ("days 240-273", "black"),
                  ("1996-2018", GRAY), ("2019", RED)])
    ax.text(0.960, 0.118, "(b)", fontsize=TEXT_FS, ha="center", va="center",
            transform=ax.transAxes)

    # ---- (c)
    ax = fig.add_axes([0.0475, 0.0606, 0.4464, 0.4304])
    style_axes(ax)
    gray_runs(ax, c_gray_runs, c_gray_pts, 6.0)
    x, y = split(c_blue)
    ax.scatter(x, y, s=50, color=BLUE, lw=0, zorder=3)
    x, y = split(c_red)
    ax.scatter(x, y, s=50, color=RED, lw=0, zorder=3)
    ax.axvline(241, color=RED, lw=2.0, dashes=DASH, zorder=5)
    ax.vlines(296, 0, 4.0, color=RED, lw=2.0, linestyles=(0, DASH), zorder=5)
    ax.set_xlim(221.3, 310.9)
    ax.set_ylim(0, 6.02)
    ax.yaxis.set_major_locator(MultipleLocator(1))
    ax.yaxis.set_minor_locator(MultipleLocator(0.1))
    month_axis(ax, [244, 274, 305], ["Sep", "Oct", "Nov"],
               [228.5, 236.25, 251.5, 259, 266.5, 281.75, 289.5, 297.25])
    ax.set_ylabel(r"SCD 10$^{14}$ [molec/cm$^2$]", fontsize=19)
    ax.yaxis.set_label_coords(-0.060, 0.5)
    corner_texts(ax, 0.935, [0.903, 0.847, 0.791, 0.735],
                 [("OClO PM 89°≤SZA≤91°", "black"), ("2002–2018", GRAY),
                  ("2002", BLUE), ("2019", RED)])
    ax.text(0.082, 0.067, "(c)", fontsize=TEXT_FS, ha="center", va="center",
            transform=ax.transAxes)

    # ---- (d)
    ax = fig.add_axes([0.5497, 0.0606, 0.4462, 0.4301])
    style_axes(ax)
    gray_runs(ax, d_gray_runs, d_gray_pts, 6.0)
    x, y = split(d_blue)
    ax.scatter(x, y, s=50, color=BLUE, lw=0, zorder=3)
    x, y = split(d_red)
    ax.scatter(x, y, s=80, color=RED, lw=0, zorder=4)
    ax.axvline(241, color=RED, lw=2.0, dashes=DASH, zorder=5)
    ax.vlines(296, 0, 4.0, color=RED, lw=2.0, linestyles=(0, DASH), zorder=5)
    ax.set_xlim(221.2, 311.2)
    ax.set_ylim(0, 10.03)
    ax.yaxis.set_major_locator(MultipleLocator(2))
    ax.yaxis.set_minor_locator(MultipleLocator(0.5))
    month_axis(ax, [244, 274, 305], ["Sep", "Oct", "Nov"],
               [228.5, 236.25, 251.5, 259, 266.5, 281.75, 289.5, 297.25])
    ax.set_ylabel(r"dSCD 10$^{14}$ [molec/cm$^2$]", fontsize=19)
    ax.yaxis.set_label_coords(-0.088, 0.5)
    corner_texts(ax, 0.935, [0.904, 0.850, 0.792, 0.737],
                 [("BrO PM 89°≤SZA≤91°", "black"), ("2002–2018", GRAY),
                  ("2002", BLUE), ("2019", RED)])
    ax.text(0.082, 0.052, "(d)", fontsize=TEXT_FS, ha="center", va="center",
            transform=ax.transAxes)

    fig.savefig("out.png", dpi=250)
    plt.close(fig)


if __name__ == "__main__":
    main()
